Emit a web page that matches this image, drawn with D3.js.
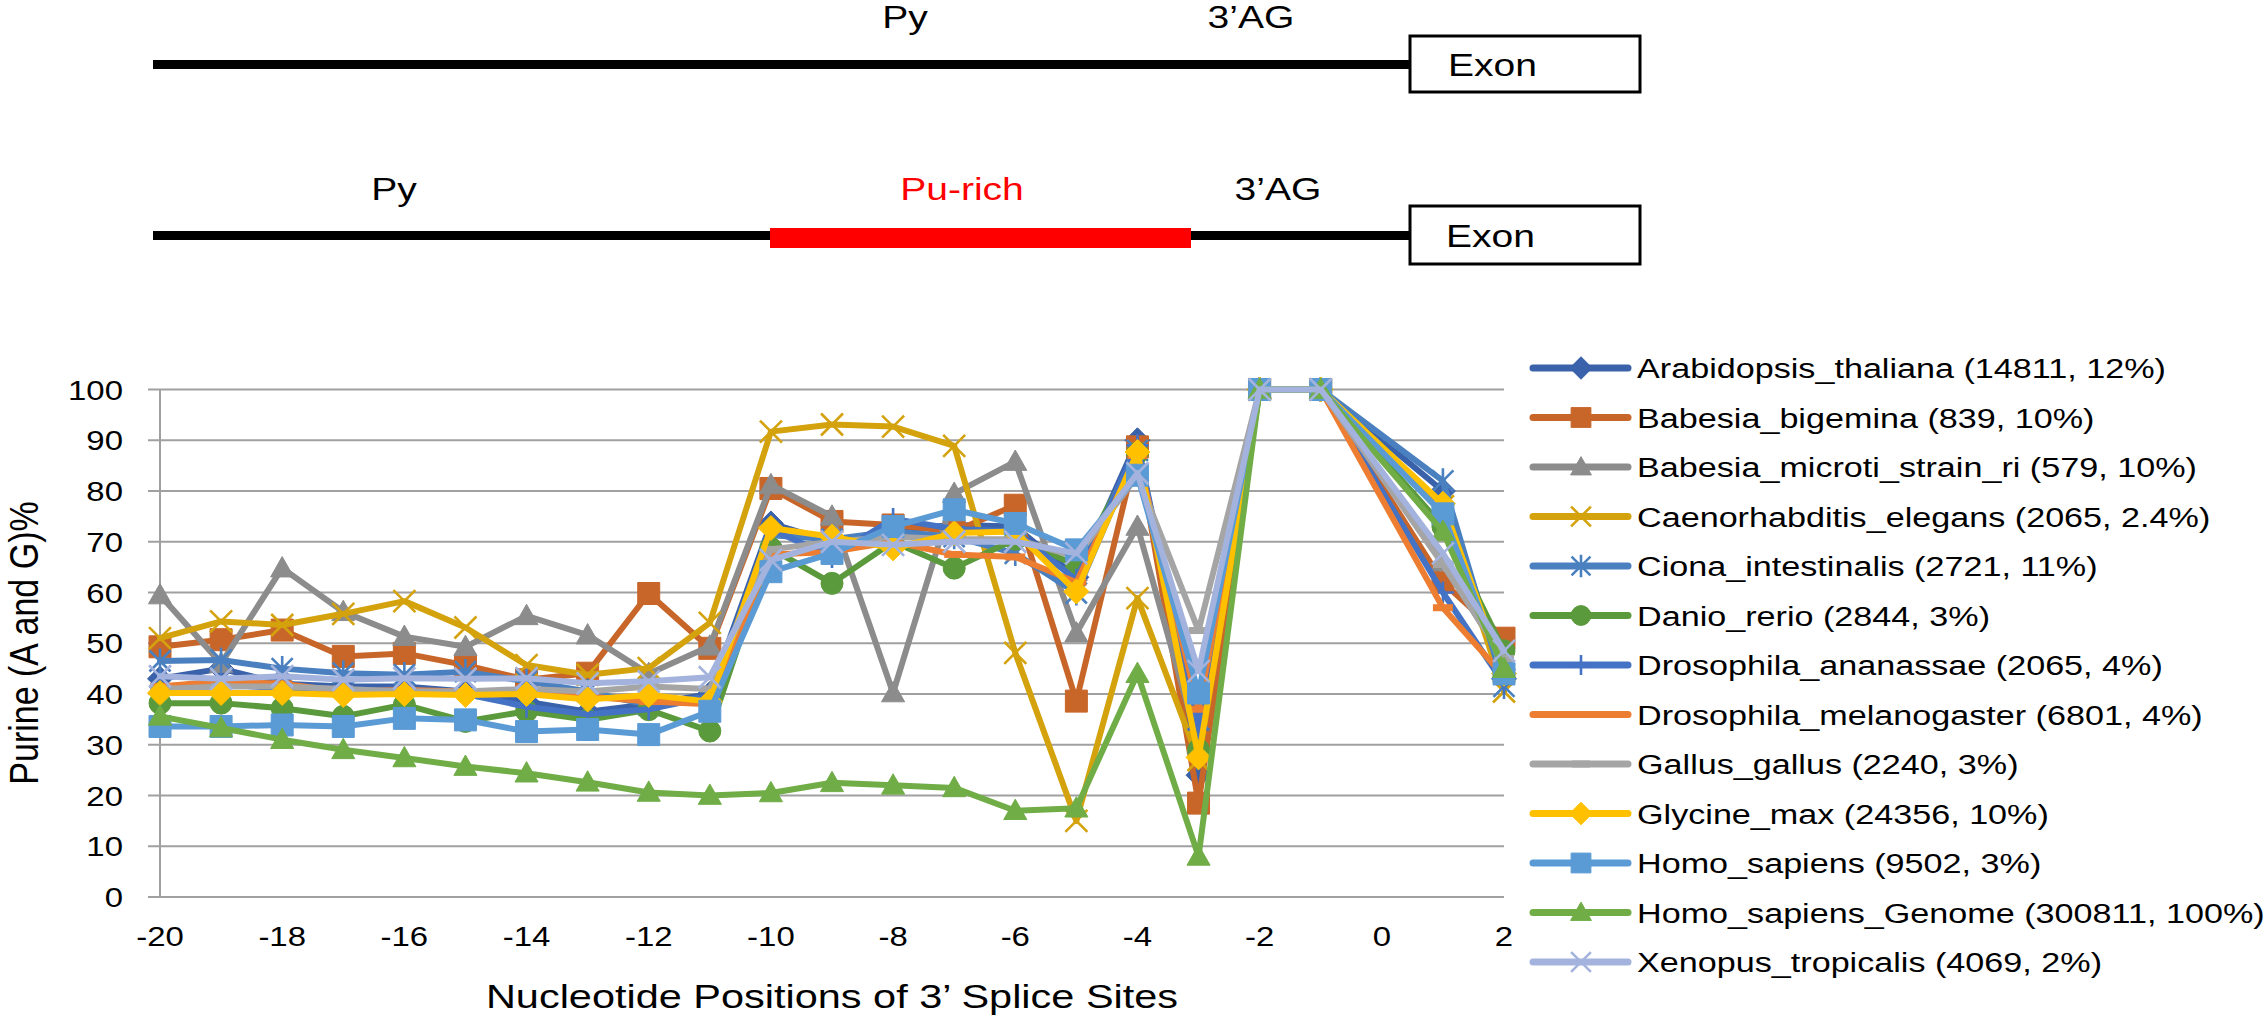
<!DOCTYPE html>
<html><head><meta charset="utf-8">
<script src="https://cdn.jsdelivr.net/npm/d3@7"></script>
<style>body{margin:0;background:#fff;overflow:hidden}</style>
</head><body>
<svg id="c" width="2264" height="1016"></svg>
<script>
// ---------- data ----------
const positions = [-20,-19,-18,-17,-16,-15,-14,-13,-12,-11,-10,-9,-8,-7,-6,-5,-4,-3,-2,-1,1,2];
const xTicks = [-20,-18,-16,-14,-12,-10,-8,-6,-4,-2,0,2];
const yTicks = [0,10,20,30,40,50,60,70,80,90,100];

const arabidopsis = [43,45,42,41.5,41.5,40.5,38.5,36.5,38,40,73.6,70,72.3,73.3,73,63,90,24,100,100,80,43];
const babesiaBig  = [49.3,50.7,52.6,47.4,48,45.7,42.8,44.1,59.8,49,80.5,74,73.3,72,77.2,38.6,88.7,18.5,100,100,62,51];
const babesiaMic  = [59.5,46,64.8,56.2,51.3,49.3,55.4,51.6,44,49.4,81.2,75,40.2,79.5,85.8,52,73,30,100,100,66,46.5];
const celegans    = [51,54.3,53.6,55.8,58.3,53.1,45.7,43.8,45.1,54,91.7,93.1,92.7,88.9,48.1,15,58.9,27,100,100,77,40.5];
const ciona       = [46.5,46.7,45,44.1,43.8,44.4,42.5,40.5,37.8,39.5,71.3,70.5,72,71,67.7,59.9,88,35,100,100,82,41.5];
const danio       = [38.2,38.2,37.2,35.6,37.9,34.6,36.6,34.9,36.9,32.7,68.7,61.8,70,64.8,70.5,65.4,87.5,29,100,100,73,48.5];
const dAnanassae  = [41.5,42,41,40.5,41,40,37.5,36,37,39.5,72.5,67,74.5,72.5,72,62.5,89,33,100,100,60,42];
const dMelano     = [41.5,42.5,42,40.5,40.8,40.5,40,39.5,38.5,38,67.5,68,70,67.5,67,62,87,37,100,100,57,43.5];
const gallus      = [41,41.5,41.5,41,40.5,40.5,41,40.5,41.5,41,68.5,70,71,70.5,70.5,67,83,52.5,100,100,65.5,47];
const glycine     = [40.2,40.2,40.2,39.8,40,39.8,40,38.9,39.8,38.5,72.7,71,68.7,71.7,72,60.2,87.7,27.5,100,100,77.5,44];
const homo        = [33.6,33.6,33.9,33.6,35.2,34.9,32.6,33,32,36.6,64.1,67.7,73,76.3,73.6,68.4,83.1,40.2,100,100,75.5,44];
const homoGenome  = [35.6,33.3,31,29,27.4,25.7,24.4,22.6,20.6,20,20.5,22.5,22,21.5,17,17.5,44,8,100,100,72,45];
const xenopus     = [43.5,43,43.5,42.8,43.1,43,43.1,42.1,42.5,43.3,66.4,70,69.4,70,70,67.7,83.5,44.5,100,100,67.7,48.5];

const seriesNames = [
  "Arabidopsis_thaliana (14811, 12%)",
  "Babesia_bigemina (839, 10%)",
  "Babesia_microti_strain_ri (579, 10%)",
  "Caenorhabditis_elegans (2065, 2.4%)",
  "Ciona_intestinalis (2721, 11%)",
  "Danio_rerio (2844, 3%)",
  "Drosophila_ananassae (2065, 4%)",
  "Drosophila_melanogaster (6801, 4%)",
  "Gallus_gallus (2240, 3%)",
  "Glycine_max (24356, 10%)",
  "Homo_sapiens (9502, 3%)",
  "Homo_sapiens_Genome (300811, 100%)",
  "Xenopus_tropicalis (4069, 2%)"
];
const seriesValues = [arabidopsis,babesiaBig,babesiaMic,celegans,ciona,danio,dAnanassae,dMelano,gallus,glycine,homo,homoGenome,xenopus];
const seriesColors = ["#3A62AA","#C8662A","#8C8C8C","#D4A20C","#4A80BF","#5B9A3C","#4472C4","#ED7D31","#A5A5A5","#FFC000","#5B9BD5","#70AD47","#A3B3DD"];
const seriesMarkers = ["diamond","square","triangle","x","star","circle","plus","dash","dash","diamond","square","triangle","x"];

const yTitle = "Purine (A and G)%";
const xTitle = "Nucleotide Positions of 3\u2019 Splice Sites";

// ---------- drawing ----------
const svg = d3.select("#c");
const FONT = "'Liberation Sans', Arial, sans-serif";
const SX = 1.22;

function label(parent, px, py, str, size, anchor, fill, rot) {
  const g = parent.append("g")
    .attr("transform", rot ? `translate(${px},${py}) rotate(${rot}) scale(1,${SX})` : `translate(${px},${py}) scale(${SX},1)`);
  g.append("text").attr("x",0).attr("y",0)
    .attr("font-family", FONT).attr("font-size", size)
    .attr("text-anchor", anchor || "middle").attr("fill", fill || "#000")
    .text(str);
  return g;
}

// --- top diagrams ---
const diag = svg.append("g");
diag.append("rect").attr("x",153).attr("y",60).attr("width",1257).attr("height",9).attr("fill","#000");
diag.append("rect").attr("x",1410).attr("y",36).attr("width",230).attr("height",56).attr("fill","#fff").attr("stroke","#000").attr("stroke-width",3);
label(diag, 905, 28, "Py", 32);
label(diag, 1251, 28, "3\u2019AG", 32);
label(diag, 1448, 76, "Exon", 32, "start");

diag.append("rect").attr("x",153).attr("y",231).attr("width",1257).attr("height",9).attr("fill","#000");
diag.append("rect").attr("x",770).attr("y",228).attr("width",421).attr("height",20).attr("fill","#FF0000");
diag.append("rect").attr("x",1410).attr("y",206).attr("width",230).attr("height",58).attr("fill","#fff").attr("stroke","#000").attr("stroke-width",3);
label(diag, 394, 200, "Py", 32);
label(diag, 962, 200, "Pu-rich", 32, "middle", "#FF0000");
label(diag, 1278, 200, "3\u2019AG", 32);
label(diag, 1446, 247, "Exon", 32, "start");

// --- chart ---
const x = d3.scaleLinear().domain([-20, 2]).range([160, 1504]);
const y = d3.scaleLinear().domain([0, 100]).range([897, 389.5]);

const grid = svg.append("g");
yTicks.forEach(t => {
  grid.append("line").attr("x1",148).attr("x2",1504).attr("y1",y(t)).attr("y2",y(t))
    .attr("stroke","#A0A0A0").attr("stroke-width",2);
  label(grid, 123, y(t)+10, String(t), 27, "end");
});
grid.append("line").attr("x1",160).attr("x2",160).attr("y1",y(100)).attr("y2",y(0))
  .attr("stroke","#A0A0A0").attr("stroke-width",2);
xTicks.forEach(t => label(grid, x(t), 946, String(t), 27, "middle"));

label(svg, 38, 643, yTitle, 34, "middle", "#000", -90);
label(svg, 832, 1008, xTitle, 34, "middle");

function markerPath(type, r) {
  switch (type) {
    case "diamond": return `M0,${-r}L${r},0L0,${r}L${-r},0Z`;
    case "square": return `M${-r},${-r}H${r}V${r}H${-r}Z`;
    case "triangle": return `M0,${-r*1.05}L${r*1.05},${r*0.8}L${-r*1.05},${r*0.8}Z`;
    case "circle": return `M${r},0A${r},${r} 0 1,1 ${-r},0A${r},${r} 0 1,1 ${r},0Z`;
    case "x": return `M${-r},${-r}L${r},${r}M${-r},${r}L${r},${-r}`;
    case "star": return `M${-r},${-r}L${r},${r}M${-r},${r}L${r},${-r}M0,${-r*1.2}V${r*1.2}`;
    case "plus": return `M${-r},0H${r}M0,${-r}V${r}`;
    case "dash": return `M${-r},0H${r}`;
  }
}
function drawMarker(g, type, color, cx, cy, scale) {
  const filled = ["diamond","square","triangle","circle"].includes(type);
  const r = (type==="diamond"?12.5: type==="x"?11: type==="star"?10.5: type==="plus"?11: type==="dash"?10:11) * scale;
  const p = g.append("path").attr("d", markerPath(type, r)).attr("transform",`translate(${cx},${cy})`);
  if (filled) p.attr("fill", color).attr("stroke", color).attr("stroke-width", 1);
  else p.attr("fill","none").attr("stroke", color).attr("stroke-width", type==="dash"?7:2.6);
}

const line = d3.line().x((d,i)=>x(positions[i])).y(d=>y(d));
const plot = svg.append("g");
seriesValues.forEach((vals, si) => {
  const g = plot.append("g");
  g.append("path").attr("d", line(vals)).attr("fill","none")
    .attr("stroke", seriesColors[si]).attr("stroke-width", 6)
    .attr("stroke-linejoin","round").attr("stroke-linecap","round");
  vals.forEach((v,i) => drawMarker(g, seriesMarkers[si], seriesColors[si], x(positions[i]), y(v), 1));
});

// --- legend ---
const leg = svg.append("g");
seriesNames.forEach((name, i) => {
  const ly = 368 + i*49.5;
  leg.append("line").attr("x1",1533).attr("x2",1628).attr("y1",ly).attr("y2",ly)
    .attr("stroke", seriesColors[i]).attr("stroke-width",7).attr("stroke-linecap","round");
  drawMarker(leg, seriesMarkers[i], seriesColors[i], 1581, ly, 0.9);
  label(leg, 1637, ly+10, name, 28, "start");
});
</script>
</body></html>
